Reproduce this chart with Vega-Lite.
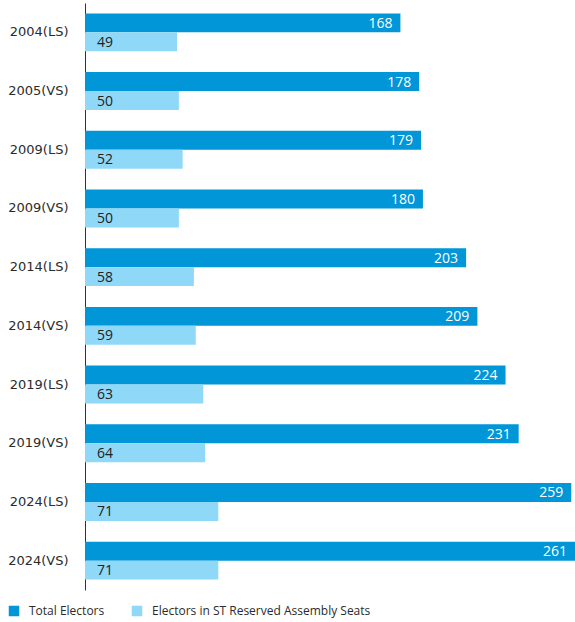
{
  "$schema": "https://vega.github.io/schema/vega-lite/v6.json",
  "width": 490,
  "height": 587,
  "autosize": {"type": "none"},
  "padding": {"left": 85, "top": 3, "right": 0, "bottom": 32},
  "background": "white",
  "config": {"view": {"stroke": null}, "font": "Open Sans"},
  "data": {"values": [
    {"cat": "2004(LS)", "series": "Total Electors", "o": 1, "v": 168},
    {"cat": "2004(LS)", "series": "Electors in ST Reserved Assembly Seats", "o": 2, "v": 49},
    {"cat": "2005(VS)", "series": "Total Electors", "o": 1, "v": 178},
    {"cat": "2005(VS)", "series": "Electors in ST Reserved Assembly Seats", "o": 2, "v": 50},
    {"cat": "2009(LS)", "series": "Total Electors", "o": 1, "v": 179},
    {"cat": "2009(LS)", "series": "Electors in ST Reserved Assembly Seats", "o": 2, "v": 52},
    {"cat": "2009(VS)", "series": "Total Electors", "o": 1, "v": 180},
    {"cat": "2009(VS)", "series": "Electors in ST Reserved Assembly Seats", "o": 2, "v": 50},
    {"cat": "2014(LS)", "series": "Total Electors", "o": 1, "v": 203},
    {"cat": "2014(LS)", "series": "Electors in ST Reserved Assembly Seats", "o": 2, "v": 58},
    {"cat": "2014(VS)", "series": "Total Electors", "o": 1, "v": 209},
    {"cat": "2014(VS)", "series": "Electors in ST Reserved Assembly Seats", "o": 2, "v": 59},
    {"cat": "2019(LS)", "series": "Total Electors", "o": 1, "v": 224},
    {"cat": "2019(LS)", "series": "Electors in ST Reserved Assembly Seats", "o": 2, "v": 63},
    {"cat": "2019(VS)", "series": "Total Electors", "o": 1, "v": 231},
    {"cat": "2019(VS)", "series": "Electors in ST Reserved Assembly Seats", "o": 2, "v": 64},
    {"cat": "2024(LS)", "series": "Total Electors", "o": 1, "v": 259},
    {"cat": "2024(LS)", "series": "Electors in ST Reserved Assembly Seats", "o": 2, "v": 71},
    {"cat": "2024(VS)", "series": "Total Electors", "o": 1, "v": 261},
    {"cat": "2024(VS)", "series": "Electors in ST Reserved Assembly Seats", "o": 2, "v": 71}
  ]},
  "encoding": {
    "y": {"field": "cat", "type": "nominal", "sort": null,
      "scale": {"paddingInner": 0.354, "paddingOuter": 0.177},
      "axis": {"title": null, "ticks": false, "domainColor": "#333333", "domainWidth": 1,
        "labelFontSize": 13, "labelColor": "#2b2b2b", "labelPadding": 17, "labelFont": "DejaVu Sans"}},
    "yOffset": {"field": "series", "type": "nominal", "sort": ["Total Electors", "Electors in ST Reserved Assembly Seats"], "scale": {"paddingInner": 0, "paddingOuter": 0}},
    "x": {"field": "v", "type": "quantitative", "scale": {"domain": [0, 261], "nice": false}, "axis": null}
  },
  "layer": [
    {"mark": {"type": "bar", "cornerRadius": 0},
      "encoding": {"color": {"field": "series", "type": "nominal",
        "sort": ["Total Electors", "Electors in ST Reserved Assembly Seats"],
        "scale": {"domain": ["Total Electors", "Electors in ST Reserved Assembly Seats"], "range": ["#0096D8", "#8FD8F7"]},
        "legend": {"title": null, "orient": "none", "legendX": -77, "legendY": 602, "direction": "horizontal",
          "symbolType": "square", "symbolSize": 110, "symbolStrokeWidth": 0, "symbolOpacity": 1, "labelLimit": 400,
          "labelFontSize": 12, "labelColor": "#2b2b2b", "labelFont": "Open Sans", "columnPadding": 26, "labelOffset": 9}}}},
    {"transform": [{"filter": "datum.o == 1"}],
      "mark": {"type": "text", "align": "right", "baseline": "middle", "dx": -8, "dy": 1, "color": "white", "fontSize": 14},
      "encoding": {"text": {"field": "v", "type": "quantitative"}}},
    {"transform": [{"filter": "datum.o == 2"}],
      "mark": {"type": "text", "align": "left", "baseline": "middle", "dx": 12, "dy": 1, "color": "#222222", "fontSize": 14},
      "encoding": {"x": {"datum": 0}, "text": {"field": "v", "type": "quantitative"}}}
  ]
}
